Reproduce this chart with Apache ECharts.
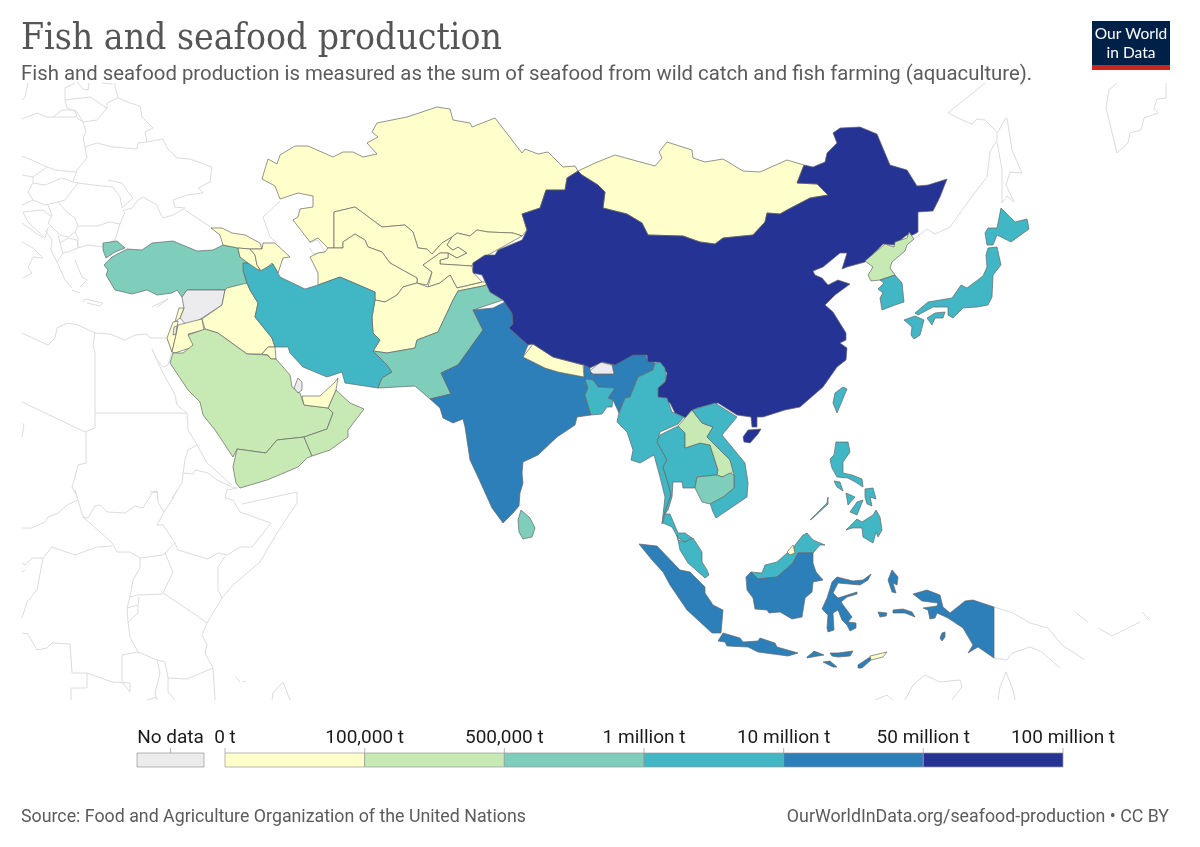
<!DOCTYPE html>
<html>
<head>
<meta charset="utf-8">
<style>html,body{margin:0;padding:0;background:#fff}#chart{width:1200px;height:847px}</style>
<script src="https://cdn.jsdelivr.net/npm/echarts@6/dist/echarts.min.js"></script>
</head>
<body>
<div id="chart"></div>
<script>
// values in tonnes
var countries = ['China','India','Indonesia','Bangladesh','Myanmar','Vietnam','Thailand','Malaysia','Philippines','Japan','South Korea','Taiwan','Iran','Cambodia','Pakistan','Sri Lanka','Turkey','Laos','North Korea','Saudi Arabia','Yemen','Oman','Kazakhstan','Mongolia','Uzbekistan','Turkmenistan','Kyrgyzstan','Tajikistan','Afghanistan','Nepal','Georgia','Armenia','Azerbaijan','Iraq','Kuwait','Jordan','Israel','Lebanon','UAE','Brunei','Timor'];
var production = [81500000,10800000,20900000,3400000,5000000,6400000,2100000,1750000,2900000,4200000,1900000,1300000,1100000,745000,670000,620000,610000,165000,210000,170000,215000,205000,50000,90,30000,15000,1200,700,1000,60000,30000,18000,35000,75000,5000,1000,25000,4000,75000,3000,3000];
var noData = ['Syria','Bhutan','Qatar','West Bank'];
var thresholds = [0,100000,500000,1000000,10000000,50000000,100000000];
var tickLabels = ['0 t','100,000 t','500,000 t','1 million t','10 million t','50 million t','100 million t'];
var bandColors = ['#ffffcc','#c7e9b4','#7fcdbb','#41b6c4','#2c7fb8','#253494'];

// base map outlines, in page pixels
var shapes = {
  'Kazakhstan':['262,179 268,159 277,164 280,155 295,146 308,146 333,157 343,152 353,152 363,157 377,154 367,143 378,137 372,132 377,123 407,117 437,107 450,109 453,120 470,123 472,127 495,118 522,153 525,149 538,154 548,152 563,167 575,166 578,171 567,178 565,190 546,190 540,208 522,214 527,230 522,236 513,233 488,232 477,230 470,236 457,233 452,237 442,243 432,254 427,249 418,248 413,232 405,225 382,227 355,207 334,212 334,248 328,248 318,238 310,242 293,220 298,217 300,209 313,207 313,196 298,193 280,199 275,186'],
  'Uzbekistan':['334,248 334,212 355,207 382,227 405,225 413,232 418,248 427,249 432,254 442,243 452,237 447,245 453,250 458,247 467,253 457,258 448,253 440,253 423,265 432,272 427,285 417,283 417,278 390,263 382,252 368,247 365,240 355,234 343,242 343,248'],
  'Turkmenistan':['310,257 318,253 325,252 328,248 343,248 343,242 355,234 365,240 368,247 382,252 390,263 417,278 417,283 403,287 397,295 385,302 375,300 375,292 340,277 318,285 318,273'],
  'Kyrgyzstan':['452,237 457,233 470,236 477,230 488,232 513,233 522,236 497,250 473,263 472,266 440,264 440,260 448,258 448,253 457,258 467,253 458,247 453,250 447,245'],
  'Tajikistan':['423,265 440,253 448,253 448,258 440,260 440,264 472,266 473,272 482,282 457,288 450,275 440,283 428,287 432,272'],
  'Afghanistan':['375,300 385,302 397,295 403,287 417,283 428,287 440,283 450,275 457,288 483,282 497,281 483,286 458,291 453,300 447,313 438,332 417,340 415,348 387,353 373,351 380,340 373,333 372,317'],
  'Mongolia':['578,171 595,163 615,155 633,160 655,166 662,158 659,152 667,142 692,150 693,158 705,162 723,159 743,171 760,172 787,160 804,165 797,183 817,184 828,195 810,198 787,210 780,214 767,213 765,222 753,235 723,238 715,244 700,242 683,236 648,235 642,223 627,214 603,208 605,192 598,185 582,175'],
  'Turkey':['103,243 117,241 125,248 115,252 106,258 103,250','104,265 112,257 127,249 142,250 152,243 173,241 197,251 213,250 223,245 238,248 240,257 248,263 243,270 247,283 250,290 225,290 207,290 187,290 185,293 182,297 177,290 172,293 157,295 147,290 132,294 115,290 106,275 108,270'],
  'Georgia':['211,228 222,228 232,233 245,235 260,243 262,249 250,249 238,248 223,245 220,235'],
  'Armenia':['238,248 250,249 255,255 257,265 260,270 252,270 248,263 240,257'],
  'Azerbaijan':['250,249 262,249 263,243 275,243 290,257 283,258 278,273 272,263 262,272 257,265 255,255'],
  'Syria':['182,297 187,290 207,290 225,290 222,305 202,318 188,327 180,318 184,308'],
  'Lebanon':['179,308 184,308 180,318 175,322'],
  'Israel':['173,322 178,321 176,335 172,352 167,338'],
  'West Bank':['174,327 177,326 176,334 173,335'],
  'Jordan':['178,325 202,319 204,330 188,334 195,343 190,348 175,353 172,352 176,335'],
  'Iraq':['250,290 258,303 255,317 272,338 275,347 268,347 262,354 247,354 218,333 205,329 202,319 222,305 225,290 227,288 247,283'],
  'Kuwait':['262,354 268,347 275,347 276,359 271,359 268,355'],
  'Iran':['243,263 248,263 260,271 273,264 280,277 282,278 305,289 318,285 340,277 375,292 375,300 372,317 373,333 380,340 373,351 387,365 392,372 382,378 378,388 345,383 342,372 327,377 303,367 290,353 288,347 275,347 272,338 255,317 258,303 250,290 247,283 243,270'],
  'Saudi Arabia':['170,363 173,353 183,353 193,345 188,335 205,329 218,333 247,354 267,355 271,359 276,359 290,375 292,387 300,393 304,405 328,408 333,413 327,429 304,437 277,440 266,453 237,449 233,457 215,430 203,415 200,402 188,390'],
  'Yemen':['237,449 266,453 277,440 304,437 312,456 307,458 298,467 267,480 240,488 236,483 233,467'],
  'Oman':['304,437 327,429 333,413 328,408 336,390 350,403 364,409 348,430 348,437 330,450 312,456'],
  'UAE':['302,396 320,396 335,382 338,378 336,390 328,408 304,405'],
  'Qatar':['298,378 302,382 302,390 298,393 294,388'],
  'Pakistan':['373,351 387,353 415,348 417,340 438,332 447,313 453,300 458,291 483,286 497,281 503,300 473,310 483,330 458,365 441,373 451,394 430,399 415,386 378,388 382,378 392,372 387,365'],
  'India':['473,310 493,308 505,302 512,313 513,324 509,328 528,345 523,357 545,368 558,372 584,377 584,365 590,368 590,371 593,374 614,374 612,365 627,355 645,353 648,360 655,363 653,370 638,377 630,397 625,398 619,413 613,400 608,398 615,388 598,387 593,380 585,379 588,388 585,395 591,415 577,417 575,425 557,437 538,455 523,462 522,473 523,483 520,493 519,506 513,513 503,523 492,508 478,477 470,460 465,427 463,419 453,423 443,418 440,408 430,399 451,394 441,373 458,365 483,330'],
  'Nepal':['523,357 533,344 553,357 583,365 584,377 558,372 545,368'],
  'Bhutan':['590,371 600,362 612,365 614,374 593,374'],
  'Bangladesh':['585,379 593,380 598,387 615,388 608,398 613,400 612,407 607,407 602,414 591,415 585,395 588,388'],
  'Sri Lanka':['521,510 530,518 535,528 532,537 523,539 519,532 518,520'],
  'China':['578,171 582,175 598,185 605,192 603,208 627,214 642,223 648,235 683,236 700,242 715,244 723,238 753,235 765,222 767,213 780,214 787,210 810,198 828,195 817,184 797,183 804,165 813,167 825,162 827,153 837,143 833,133 840,128 860,127 877,134 890,165 907,170 917,186 928,185 947,179 940,197 933,211 918,212 918,232 913,235 907,235 903,238 895,245 883,244 865,262 847,267 842,269 847,253 840,253 823,267 813,271 815,275 822,278 828,285 838,280 850,284 835,295 825,305 833,312 846,333 846,340 840,343 847,348 846,360 837,367 823,387 800,407 785,410 763,417 757,417 757,427 752,427 751,417 737,415 718,403 697,408 690,412 688,419 675,413 670,403 658,397 658,388 665,382 667,373 658,362 648,362 647,355 633,355 615,365 602,362 590,368 584,365 553,357 533,344 528,345 509,328 513,324 512,313 503,300 490,292 482,275 473,273 473,263 485,255 495,255 498,250 522,240 527,230 522,214 540,208 546,190 565,190 567,178','743,437 748,430 761,429 758,434 750,443 744,442'],
  'Taiwan':['833,403 835,393 843,387 847,389 837,413'],
  'North Korea':['865,261 885,244 894,247 895,242 907,238 909,232 914,239 907,245 905,251 892,262 890,268 895,275 880,280 871,281 868,275 873,267'],
  'South Korea':['880,280 895,275 902,283 904,302 895,305 882,310 880,298 883,293 878,289 884,283'],
  'Japan':['1001,208 1015,222 1027,219 1029,229 1011,242 997,235 993,245 987,245 985,233 988,228 997,228','988,248 997,247 1001,265 993,275 992,297 988,305 977,307 963,308 953,318 948,315 948,307 933,307 918,315 915,313 928,302 952,298 961,285 967,288 983,276 987,267 986,255','927,318 935,313 945,312 943,318 935,318 932,325','904,320 915,316 924,320 920,335 914,339 911,335 912,327'],
  'Myanmar':['619,413 625,398 630,397 638,377 653,370 655,363 660,362 665,368 666,380 658,388 658,397 667,398 672,412 684,417 678,424 660,432 657,442 667,460 663,467 668,483 671,495 665,512 662,524 665,497 660,477 654,455 640,463 631,460 633,450 627,432 617,422'],
  'Thailand':['657,442 660,435 678,426 685,433 685,448 700,443 710,445 718,470 717,475 697,477 695,488 683,488 682,482 673,482 672,497 668,510 665,514 670,514 678,533 685,533 692,538 685,542 678,538 672,527 663,523 665,512 671,495 668,483 663,467 667,460'],
  'Laos':['678,426 692,410 702,423 713,427 707,437 730,460 734,470 730,475 722,477 717,475 718,470 710,445 700,443 685,448 685,433'],
  'Vietnam':['692,410 698,408 715,403 737,417 722,435 745,463 748,483 747,497 716,518 713,512 710,503 723,497 734,488 734,475 730,460 707,437 713,427 702,423'],
  'Cambodia':['697,477 717,475 722,477 730,473 734,475 734,488 723,497 710,504 702,502 695,488'],
  'Malaysia':['678,540 685,542 693,538 702,552 702,562 707,570 709,575 705,578 688,563 680,550 677,535','751,572 758,579 777,577 793,563 798,553 813,553 820,545 825,545 813,540 807,533 803,535 795,545 793,552 787,553 777,562 765,565 762,573'],
  'Brunei':['787,552 793,545 795,553 790,555'],
  'Philippines':['836,442 848,442 850,452 843,462 843,473 852,475 862,479 863,487 857,483 848,478 837,477 832,468 830,459 834,455','865,489 873,488 876,499 870,497 872,506 867,504 865,497','834,481 840,482 843,491 837,487','846,493 855,497 848,505','850,512 857,502 863,500 857,515','846,530 857,519 862,522 865,520 873,515 876,510 880,517 882,530 878,537 876,532 873,543 863,537 862,528 852,528','810,520 827,503 828,497 828,504 813,518'],
  'Indonesia':['639,544 657,546 680,570 690,572 705,587 705,593 713,605 723,610 721,633 712,633 687,610 670,585 663,572 652,560','718,641 723,633 740,638 743,642 758,641 760,638 775,643 777,647 798,653 788,656 758,652 748,647 727,646 725,642','807,657 812,653 814,651 824,655 818,656 807,658','830,653 838,653 853,651 850,656 838,657 832,656','823,662 830,661 837,667 833,667','858,665 870,657 871,660 862,668 858,668','751,572 758,579 777,577 793,563 798,553 813,553 813,563 816,572 823,580 813,582 812,592 805,598 802,617 792,619 780,612 769,613 767,610 755,609 753,598 747,590 746,577','832,582 837,577 853,581 863,580 871,574 868,580 860,585 838,583 833,593 838,598 857,592 857,594 847,597 841,602 852,617 848,622 856,623 856,628 850,631 847,625 842,620 838,610 833,613 834,630 828,632 827,628 828,615 822,609 827,598','892,570 898,577 897,585 893,583 896,593 892,592 888,580','893,610 903,609 912,612 915,617 905,613 893,613','878,612 887,613 886,616 880,617','913,594 927,590 940,595 943,607 950,613 965,601 973,600 994,607 994,658 978,647 968,653 973,645 963,628 948,618 937,613 935,618 930,619 928,610 923,608 937,606 938,603 922,601','942,633 945,632 945,637 942,641 940,638'],
  'Timor':['870,656 887,652 883,657 871,660']
};

// thin grey outlines of the countries outside the selected region
var backgroundLines = [
  '28,83 25,97 22,100','75,83 65,88 65,100 90,97 107,108 107,103 118,98 115,87 115,83','77,82 83,89 88,90 89,83','102,83 113,84',
  '53,117 62,110 75,110 77,117 53,117','22,119 37,113 47,117 53,117','77,118 83,122 86,132 83,138 85,147 87,158 77,170 73,182',
  '65,100 67,108 77,112 83,122 97,120 107,108','118,98 130,103 140,106 142,117 153,128 145,132 147,142 138,143 137,149 125,148 113,147 97,143 85,147',
  '147,142 163,139 167,148 177,158 190,159 212,167 210,182 198,188 203,193 187,195 173,200 175,207 185,208 173,215 163,218 160,213 157,205 148,200 143,197 137,201 132,208 122,211',
  '108,180 122,183 128,192 133,198 122,208 120,197 113,187 93,185 78,183 73,182','185,210 212,228','280,201 263,217 270,237 277,243','309,243 318,240 325,252 313,254 310,248',
  '22,156 32,160 47,167 55,170 65,171 76,172','33,177 47,167','22,175 33,177 33,183 45,185 62,178 73,182','33,183 28,192 33,200 45,205 58,202 65,200 78,183',
  '58,202 68,213 75,218 78,226 97,226 110,222 120,224 125,212','120,224 115,240 102,247 88,245 78,248 78,238 75,232 78,226','48,205 52,215 48,223 60,235 68,237 75,232',
  '23,212 43,210 52,217','22,205 33,200','23,212 28,222 45,238 48,228','45,230 52,240 51,250 57,262 63,253 60,243 58,235','60,243 68,238 77,240 78,248 68,252 63,253',
  '57,262 65,280 72,288','75,260 82,277 87,280 80,287','22,223 43,238','22,242 33,248 43,258 33,257 28,268 32,273 23,278',
  '152,307 160,303 168,299 160,305 157,307','83,302 85,299 103,303 100,306 87,303','72,290 80,293',
  '22,333 48,345 55,338 57,328 67,323 78,325 95,333 93,345 95,353 95,428 85,432 22,402',
  '95,333 110,334 125,340 135,335 147,334 150,338 167,338 172,352 168,365 163,367 157,360 152,349 157,360 163,373 175,395 177,405 187,413 95,413',
  '187,413 188,430 197,445 188,450 185,460 183,473 193,474 195,470 208,473 217,480 232,487 237,488','197,445 207,463 232,485','183,473 182,483 172,498',
  '86,432 86,463 78,465 75,477 72,487 78,498','22,423 24,425 22,437','237,488 227,490 225,498 233,500','150,492 157,491 158,498',
  '75,490 78,500 67,505 58,513 48,517 45,522 32,528 22,528','78,500 83,517 88,518 95,506 100,505 107,512 125,513 135,506 143,508 152,493 157,492 158,502 164,512 172,500 177,490',
  '83,517 100,532 112,543 117,552 130,552 140,558 163,555 175,543 163,525 157,525 164,512',
  '175,543 178,550 208,559 218,553 227,555 240,547 252,547 271,523 240,512 233,500','242,504 297,492 297,503 277,533 260,562 233,585 222,598 207,623 202,635 207,645 205,653 213,668 215,700',
  '222,598 218,590 218,567 225,556','165,553 173,572 163,593 193,613 207,623','140,558 140,568 133,580 130,597 138,595 163,594',
  '112,546 97,547 75,555 52,547 43,558 37,590 27,602 22,618','43,558 32,558 25,565 22,563','22,572 25,570',
  '130,597 127,608 138,605 139,597','127,608 128,622 138,613 138,605','128,622 130,637 138,652 157,660 165,662 168,678 187,679 213,668',
  '22,633 28,634 37,650 47,648 52,643 70,644 72,673 87,673 112,682 130,683 130,692 122,682 122,655 138,652','71,688 87,688 87,673','71,688 71,700',
  '157,660 160,673 155,693 157,700','168,678 168,692 175,700','147,700 157,697','272,700 273,693 283,682 290,700','236,677 240,682','243,681 246,682',
  '985,83 948,113 962,120 972,124 977,119 985,120 997,132 997,140 990,152 987,177 973,195 950,227 935,234 927,229 915,238',
  '998,132 1005,119 1007,118 1012,150 1022,173 1010,172 1006,185 1014,202 1007,196 1002,203 1002,170 997,142',
  '1117,83 1109,90 1106,108 1117,153 1128,143 1130,133 1141,130 1144,118 1158,113 1154,108 1157,99 1166,98 1166,83',
  '994,607 1013,613 1030,623 1048,628 1062,645 1085,660','994,658 1007,660 1012,653 1030,647 1042,652 1060,668','1098,628 1112,636 1140,622','1142,612 1150,620','1075,612 1088,622',
  '875,700 887,695 893,700','905,700 913,685 925,675 940,682 960,680 962,687 952,700','998,700 1000,687 1006,672 1013,690 1015,700'
];

function ring(str) {
  return str.split(' ').map(function (p) {
    return p.split(',').map(Number);
  });
}

var features = [{
  type: 'Feature',
  properties: {name: 'Background'},
  geometry: {type: 'MultiLineString', coordinates: backgroundLines.map(ring)}
}];
Object.keys(shapes).forEach(function (name) {
  features.push({
    type: 'Feature',
    properties: {name: name},
    geometry: {
      type: 'MultiPolygon',
      coordinates: shapes[name].map(function (s) {
        var r = ring(s);
        r.push(r[0]);
        return [r];
      })
    }
  });
});
echarts.registerMap('asia', {type: 'FeatureCollection', features: features});

var seriesData = countries.map(function (c, i) {
  return {name: c, value: production[i]};
});
noData.forEach(function (c) {
  seriesData.push({name: c, value: NaN, itemStyle: {areaColor: '#ececef'}});
});
seriesData.push({name: 'Background', value: NaN, itemStyle: {areaColor: 'none', borderColor: '#dcdcdc', borderWidth: 1}});

var pieces = bandColors.map(function (color, i) {
  return {min: thresholds[i], max: thresholds[i + 1], color: color};
});

// legend
var barLeft = 225, barRight = 1063, barTop = 753, barHeight = 14;
var step = (barRight - barLeft) / bandColors.length;
var legendFont = '19px Roboto';
var legend = [];
bandColors.forEach(function (color, i) {
  legend.push({type: 'rect', shape: {x: barLeft + i * step, y: barTop, width: step, height: barHeight},
    style: {fill: color, stroke: '#999', lineWidth: 0.7}});
});
tickLabels.forEach(function (label, i) {
  var x = barLeft + i * step;
  legend.push({type: 'line', shape: {x1: x, y1: 748, x2: x, y2: barTop}, style: {stroke: '#999', lineWidth: 0.7}});
  legend.push({type: 'text', x: x, y: 738, style: {text: label, fill: '#1a1a1a', font: legendFont, align: 'center', verticalAlign: 'middle'}});
});
legend.push({type: 'rect', shape: {x: 137, y: barTop, width: 67, height: barHeight}, style: {fill: '#ececec', stroke: '#999', lineWidth: 0.7}});
legend.push({type: 'line', shape: {x1: 170.5, y1: 748, x2: 170.5, y2: barTop}, style: {stroke: '#999', lineWidth: 0.7}});
legend.push({type: 'text', x: 170.5, y: 738, style: {text: 'No data', fill: '#1a1a1a', font: legendFont, align: 'center', verticalAlign: 'middle'}});

// logo
var logo = [
  {type: 'rect', shape: {x: 1092, y: 21, width: 78, height: 44}, style: {fill: '#002147'}},
  {type: 'rect', shape: {x: 1092, y: 65, width: 78, height: 5}, style: {fill: '#ce261e'}},
  {type: 'text', x: 1131, y: 34, style: {text: 'Our World', fill: '#fff', font: '15.5px Lato', align: 'center', verticalAlign: 'middle'}},
  {type: 'text', x: 1131, y: 53, style: {text: 'in Data', fill: '#fff', font: '15.5px Lato', align: 'center', verticalAlign: 'middle'}}
];

var chart = echarts.init(document.getElementById('chart'));
chart.setOption({
  backgroundColor: '#fff',
  animation: false,
  title: [
    {text: 'Fish and seafood production', left: 21, top: 21, padding: 0, textStyle: {fontFamily: 'DejaVu Serif Condensed', fontWeight: 'normal', fontSize: 37, color: '#555'}},
    {text: 'Fish and seafood production is measured as the sum of seafood from wild catch and fish farming (aquaculture).', left: 21, top: 65, padding: 0, textStyle: {fontFamily: 'Roboto', fontWeight: 'normal', fontSize: 20.35, color: '#5b5b5b'}},
    {text: 'Source: Food and Agriculture Organization of the United Nations', left: 21, top: 809, padding: 0, textStyle: {fontFamily: 'Roboto', fontWeight: 'normal', fontSize: 17.8, color: '#5b5b5b'}},
    {text: 'OurWorldInData.org/seafood-production • CC BY', right: 31, top: 809, padding: 0, textStyle: {fontFamily: 'Roboto', fontWeight: 'normal', fontSize: 17.8, color: '#5b5b5b'}}
  ],
  visualMap: {type: 'piecewise', show: false, seriesIndex: 0, pieces: pieces},
  series: [{
    type: 'map',
    map: 'asia',
    silent: true,
    roam: false,
    projection: {
      project: function (p) { return [p[0], p[1]]; },
      unproject: function (p) { return [p[0], p[1]]; }
    },
    boundingCoords: [[0, 0], [1200, 847]],
    left: 0,
    top: 0,
    width: 1200,
    height: 847,
    label: {show: false},
    emphasis: {disabled: true},
    select: {disabled: true},
    itemStyle: {areaColor: '#fff', borderColor: '#666', borderWidth: 0.7},
    data: seriesData
  }],
  graphic: legend.concat(logo)
});
</script>
</body>
</html>
